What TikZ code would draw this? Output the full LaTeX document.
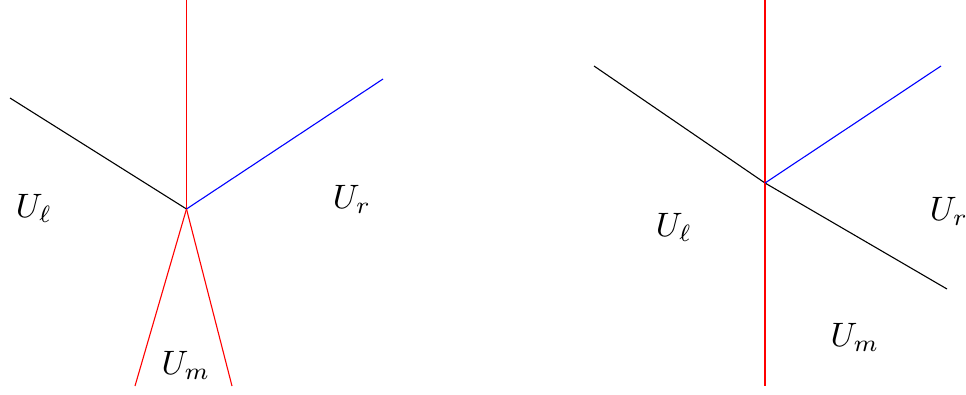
\documentclass[tikz,border=0pt]{standalone}
\begin{document}
\begin{tikzpicture}[x=1bp,y=-1bp,
  seg/.style={line width=1.1bp},
  lab/.style={inner sep=0pt,scale=3.4}]
\clip (0,0) rectangle (966,394);
\useasboundingbox (0,0) rectangle (966,394);
% left diagram
\coordinate (c1) at (186.5,209);
\coordinate (t1) at (186.5,0);
\coordinate (l1) at (10,98);
\coordinate (r1) at (383,79);
\coordinate (b1a) at (135,386);
\coordinate (b1b) at (232,386);
\draw[seg,red] (t1) -- (c1);
\draw[seg,black] (l1) -- (c1);
\draw[seg,blue] (c1) -- (r1);
\draw[seg,red] (c1) -- (b1a);
\draw[seg,red] (c1) -- (b1b);
\node[lab] (ul1) at (34,208) {$U_\ell$};
\node[lab] (ur1) at (352,199) {$U_r$};
\node[lab] (um1) at (186,365) {$U_m$};
% right diagram
\coordinate (c2) at (765,183);
\coordinate (t2) at (765,0);
\coordinate (b2) at (765,386);
\coordinate (l2) at (594,66);
\coordinate (r2) at (947,289);
\coordinate (u2) at (941,66);
\draw[seg,black] (l2) -- (c2) -- (r2);
\draw[seg,red] (t2) -- (b2);
\draw[seg,blue] (c2) -- (u2);
\node[lab] (ul2) at (674,227) {$U_\ell$};
\node[lab] (ur2) at (949,211) {$U_r$};
\node[lab] (um2) at (855,337) {$U_m$};
\end{tikzpicture}
\end{document}
